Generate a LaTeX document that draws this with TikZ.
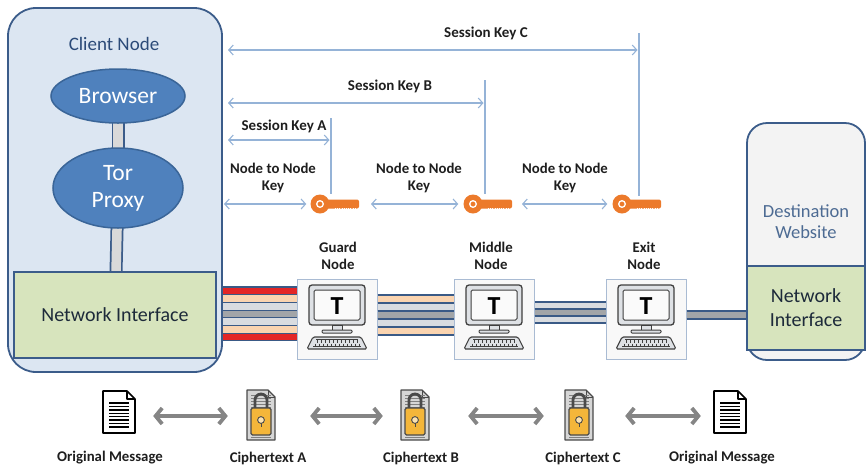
\documentclass[tikz,border=0pt]{standalone}
\usepackage{fontspec}
\setmainfont{Carlito}
\usetikzlibrary{arrows.meta,shapes.geometric,backgrounds,calc}

\definecolor{frameblue}{HTML}{3B5C8A}
\definecolor{clientfill}{HTML}{DCE6F2}
\definecolor{ovalfill}{HTML}{4F81BD}
\definecolor{ovalline}{HTML}{3A6598}
\definecolor{nifill}{HTML}{D7E4BD}
\definecolor{destfill}{HTML}{F3F3F3}
\definecolor{barfill}{HTML}{D9D9D9}
\definecolor{linkblue}{HTML}{95B3D7}
\definecolor{keyorange}{HTML}{EC7A2B}
\definecolor{cablered}{HTML}{E32626}
\definecolor{cablepeach}{HTML}{FAD4B0}
\definecolor{cablelight}{HTML}{D9DCE0}
\definecolor{cablegray}{HTML}{A2A5A8}
\definecolor{cableedge}{HTML}{3A5A86}
\definecolor{pcline}{HTML}{3F3F3F}
\definecolor{pcfill}{HTML}{DEE1E5}
\definecolor{boxedge}{HTML}{A9BBD3}
\definecolor{boxfill}{HTML}{F8F8F8}
\definecolor{lockgold}{HTML}{F4B63A}
\definecolor{lockline}{HTML}{4A4A4A}
\definecolor{pagegray}{HTML}{D6D6D6}
\definecolor{arrowgray}{HTML}{858585}
\definecolor{labeltext}{HTML}{1E1E1E}
\definecolor{clienttext}{HTML}{2B4A78}
\definecolor{desttext}{HTML}{4D6B93}
\definecolor{nitext}{HTML}{1D2A3A}

% striped link: from node, to node, top y, stripe height, stripe colours
\newcommand\cablerun[5]{%
  \foreach \cablecol [count=\cidx from 0] in {#5}{%
    \pgfmathsetmacro\cya{#3+\cidx*#4}%
    \pgfmathsetmacro\cyb{#3+(\cidx+1)*#4}%
    \fill[\cablecol] (#1.east |- 0,\cya) rectangle (#2.west |- 0,\cyb);
    \draw[cableedge, line width=1.1pt] (#1.east |- 0,\cya) -- (#2.west |- 0,\cya);
    \draw[cableedge, line width=1.1pt] (#1.east |- 0,\cyb) -- (#2.west |- 0,\cyb);
  }%
}

\tikzset{
  keyicon/.pic={
    \fill[keyorange] (0,0) circle (9.5);
    \fill[keyorange, rounded corners=2pt] (5,-4.5) rectangle (39,4.5);
    \draw[white, line width=1.3pt] (0,0) circle (3.3);
    \draw[white, line width=0.6pt, dash pattern=on 0.8pt off 1.4pt] (15,4) -- (37,4);
  },
  pcicon/.pic={
    \filldraw[fill=pcfill, draw=pcline, line width=1.3pt, rounded corners=3pt] (-28,-34) rectangle (28,6);
    \filldraw[fill=white!96!gray, draw=pcline, line width=1pt, rounded corners=1.5pt] (-23,-29) rectangle (23,1);
    \node[font=\bfseries\fontsize{26}{26}\selectfont, inner sep=0pt] (-t) at (0,-13) {T};
    \filldraw[fill=pcfill, draw=pcline, line width=1pt] (-5,6) rectangle (5,11);
    \filldraw[fill=pcfill, draw=pcline, line width=1pt, rounded corners=1pt] (-15,11) rectangle (15,14);
    \filldraw[fill=pcfill, draw=pcline, line width=1.1pt, rounded corners=1.5pt]
      (-24,18) -- (24,18) -- (30,30) -- (-30,30) -- cycle;
    \foreach \xx in {-20,-16,...,20} \draw[pcline, line width=0.7pt] (\xx,20.5) -- (\xx,23.5);
    \foreach \xx in {-22,-18,...,22} \draw[pcline, line width=0.7pt] (\xx,24.5) -- (\xx,27.5);
    \draw[pcline, line width=0.7pt] (-21,20.5) -- (21,20.5) (-24,27.5) -- (24,27.5);
  },
  plaindoc/.pic={
    \filldraw[fill=white, draw=black, line width=1.6pt, line join=round]
      (-16,-21) -- (8,-21) -- (16,-13) -- (16,21) -- (-16,21) -- cycle;
    \draw[black, line width=1.4pt, line join=round] (8,-21) -- (8,-13) -- (16,-13);
    \foreach \yy in {-9,-5.6,...,16} \draw[black, line width=1.4pt] (-10,\yy) -- (10,\yy);
  },
  cipherdoc/.pic={
    \filldraw[fill=pagegray, draw=lockline, line width=1.3pt, line join=round]
      (-14,-25) -- (7,-25) -- (14,-18) -- (14,25) -- (-14,25) -- cycle;
    \draw[lockline, line width=1pt, line join=round] (7,-25) -- (7,-18) -- (14,-18);
    \foreach \yy in {-20,-17,...,22} \draw[gray, line width=0.6pt] (-10,\yy) -- (10,\yy);
    \draw[lockline, line width=2.8pt] (-6,-6) -- (-6,-15) arc (180:360:6) -- (6,-6);
    \filldraw[fill=lockgold, draw=lockline, line width=1.2pt, rounded corners=1.5pt] (-10,-7) rectangle (10,20);
    \filldraw[fill=lockgold!40!white, draw=lockline, line width=0.9pt] (0,5) circle (3.4);
    \draw[lockline, line width=1pt] (0,8.4) -- (0,11.5);
  },
  lbl/.style={font=\bfseries\fontsize{14.8}{16.5}\selectfont, text=labeltext, align=center, inner sep=0pt},
  seslbl/.style={font=\bfseries\fontsize{15}{17}\selectfont, text=labeltext, inner sep=0pt},
  linkarrow/.style={draw=linkblue, line width=1.1pt,
    {Straight Barb[length=4.5pt,width=10pt]}-{Straight Barb[length=4.5pt,width=10pt]}},
  linkline/.style={draw=linkblue, line width=1.1pt},
  bigarrow/.style={draw=arrowgray, line width=3.8pt,
    {Straight Barb[length=6.5pt,width=16pt]}-{Straight Barb[length=6.5pt,width=16pt]}},
  oval/.style={ellipse, fill=ovalfill, draw=ovalline, line width=1.5pt, text=white,
    font=\fontsize{23.5}{27}\selectfont, align=center, inner sep=0pt},
  nibox/.style={rectangle, fill=nifill, draw=frameblue, line width=1.8pt, text=nitext,
    font=\fontsize{20}{24}\selectfont, align=center, inner sep=0pt},
  relaybox/.style={rectangle, fill=boxfill, draw=boxedge, line width=1pt,
    minimum width=80pt, minimum height=80pt, inner sep=0pt},
  keyhead/.style={circle, minimum size=19pt, inner sep=0pt},
  docslot/.style={rectangle, inner sep=0pt, minimum width=#1},
}

\begin{document}
\begin{tikzpicture}[x=1pt,y=-1pt]
\useasboundingbox (0,0) rectangle (868,467);

% ---------- client side ----------
\node[oval, minimum width=134pt, minimum height=54pt] (browser) at (118,96) {Browser};
\node[oval, minimum width=130pt, minimum height=80pt] (tor) at (118,188) {Tor\\Proxy};
\node[nibox, minimum width=202pt, minimum height=86pt] (ni) at (115,315) {Network Interface};

\begin{scope}[on background layer]
  \node[rectangle, fill=clientfill, draw=frameblue, line width=1.8pt, rounded corners=28pt,
        minimum width=214pt, minimum height=364pt, inner sep=0pt] (client) at (115,190) {};
  \draw[frameblue, line width=13pt] (browser.center) -- (tor.center);
  \draw[barfill, line width=9.5pt] (browser.center) -- (tor.center);
  \draw[frameblue, line width=13pt] (tor.center) -- (ni.center);
  \draw[barfill, line width=9.5pt] (tor.center) -- (ni.center);
\end{scope}
\node[font=\fontsize{19}{22}\selectfont, text=clienttext, inner sep=0pt] (clienttitle) at (114,44) {Client Node};

% ---------- destination ----------
\node[rectangle, fill=destfill, draw=frameblue, line width=1.8pt, rounded corners=20pt,
      minimum width=118pt, minimum height=237pt, inner sep=0pt] (dest) at (806,241.5) {};
\node[nibox, minimum width=118pt, minimum height=84pt] (dni) at (806,308) {Network\\Interface};
\node[font=\fontsize{18.5}{21}\selectfont, text=desttext, align=center, inner sep=0pt] (desttitle) at (806,222) {Destination\\Website};

% ---------- relays ----------
\node[relaybox] (guard) at (337,319) {};
\node[relaybox] (middle) at (494,319) {};
\node[relaybox] (exit) at (646,319) {};
\pic (guardpc) at (guard) {pcicon};
\pic (middlepc) at (middle) {pcicon};
\pic (exitpc) at (exit) {pcicon};
\node[lbl] (guardlbl) at (338,256) {Guard\\Node};
\node[lbl] (middlelbl) at (491,256) {Middle\\Node};
\node[lbl] (exitlbl) at (644,256) {Exit\\Node};

% ---------- links ----------
\cablerun{client}{guard}{287}{7.7}{cablered,cablepeach,cablelight,cablegray,cablelight,cablepeach,cablered}
\cablerun{guard}{middle}{295}{8}{cablepeach,cablelight,cablegray,cablelight,cablepeach}
\cablerun{middle}{exit}{302}{7}{cablelight,cablegray,cablelight}
\cablerun{exit}{dest}{311}{8}{cablegray}

% ---------- keys ----------
\node[keyhead] (ka) at (320,204) {};
\node[keyhead] (kb) at (473,204) {};
\node[keyhead] (kc) at (622,204) {};
\pic at (ka) {keyicon};
\pic at (kb) {keyicon};
\pic at (kc) {keyicon};
\coordinate (ka-tip) at ($(ka)+(39,0)$);
\coordinate (kb-tip) at ($(kb)+(39,0)$);
\coordinate (clientkey) at (224,204);

\draw[linkarrow, shorten >=4pt] (clientkey) -- (ka.west);
\draw[linkarrow, shorten <=12pt, shorten >=5pt] (ka-tip) -- (kb.west);
\draw[linkarrow, shorten <=10pt, shorten >=5pt] (kb-tip) -- (kc.west);
\node[lbl] (n2nA) at (273,178) {Node to Node\\Key};
\node[lbl] (n2nB) at (419,178) {Node to Node\\Key};
\node[lbl] (n2nC) at (565,178) {Node to Node\\Key};

% ---------- session keys ----------
\coordinate (vA-top) at (331,118);  \coordinate (vA-bot) at (331,194);
\coordinate (vB-top) at (485,80);   \coordinate (vB-bot) at (485,194);
\coordinate (vC-top) at (639,33);   \coordinate (vC-bot) at (639,196);
\draw[linkline] (vA-top) -- (vA-bot);
\draw[linkline] (vB-top) -- (vB-bot);
\draw[linkline] (vC-top) -- (vC-bot);
\coordinate (sA-w) at (228,140);
\coordinate (sB-w) at (228,103);
\coordinate (sC-w) at (228,50);
\draw[linkarrow, shorten >=1.5pt] (sA-w) -- (sA-w -| vA-top);
\draw[linkarrow, shorten >=1.5pt] (sB-w) -- (sB-w -| vB-top);
\draw[linkarrow, shorten >=1.5pt] (sC-w) -- (sC-w -| vC-top);
\node[seslbl] (sAl) at (284,126) {Session Key A};
\node[seslbl] (sBl) at (390,86) {Session Key B};
\node[seslbl] (sCl) at (486,33) {Session Key C};

% ---------- messages ----------
\node[docslot=34pt, minimum height=42pt] (m1) at (119,412) {};
\node[docslot=28pt, minimum height=50pt] (ca) at (261,415) {};
\node[docslot=28pt, minimum height=50pt] (cb) at (415,415) {};
\node[docslot=28pt, minimum height=50pt] (cc) at (579,415) {};
\node[docslot=34pt, minimum height=42pt] (m2) at (730,412) {};
\pic at (m1) {plaindoc};
\pic at (ca) {cipherdoc};
\pic at (cb) {cipherdoc};
\pic at (cc) {cipherdoc};
\pic at (m2) {plaindoc};

\draw[bigarrow, shorten <=17pt, shorten >=19pt] (m1.east |- 0,416) -- (ca.west |- 0,416);
\draw[bigarrow, shorten <=35pt, shorten >=18pt] (ca.east |- 0,416) -- (cb.west |- 0,416);
\draw[bigarrow, shorten <=39pt, shorten >=21pt] (cb.east |- 0,416) -- (cc.west |- 0,416);
\draw[bigarrow, shorten <=32pt, shorten >=12pt] (cc.east |- 0,416) -- (m2.west |- 0,416);

\node[lbl] (m1l) at (110,458) {Original Message};
\node[lbl] (cal) at (268,458) {Ciphertext A};
\node[lbl] (cbl) at (421,458) {Ciphertext B};
\node[lbl] (ccl) at (583,458) {Ciphertext C};
\node[lbl] (m2l) at (722,458) {Original Message};
\end{tikzpicture}
\end{document}
